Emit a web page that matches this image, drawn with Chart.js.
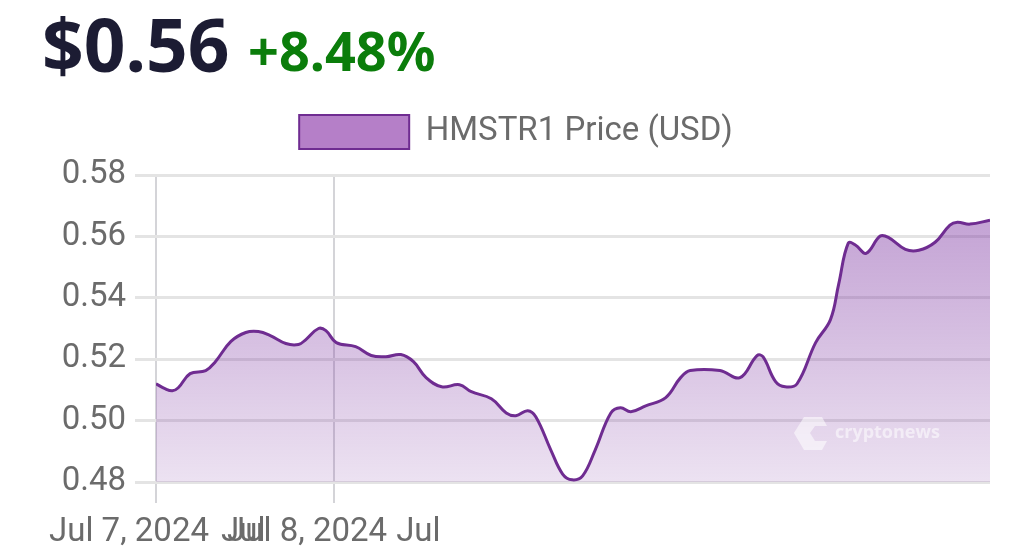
<!DOCTYPE html>
<html>
<head>
<meta charset="utf-8">
<title>HMSTR1 Price</title>
<script src="https://cdn.jsdelivr.net/npm/chart.js@4"></script>
<style>
  html, body { margin: 0; padding: 0; background: #fff; }
  #wrap { position: relative; width: 1024px; height: 556px; overflow: hidden; }
  #chart { position: absolute; left: 0; top: 0; }
  .price, .change { position: absolute; font-family: "Noto Sans", sans-serif; font-weight: 700; white-space: nowrap; transform-origin: left top; }
  .price { left: 42px; top: -6px; font-size: 73px; color: #1c1c33; }
  .change { left: 248px; top: 13px; font-size: 54px; color: #0b7d0b; }
</style>
</head>
<body>
<div id="wrap">
  <div class="price" id="priceText"></div>
  <div class="change" id="changeText"></div>
  <canvas id="chart" width="1024" height="556"></canvas>
</div>
<script>
const priceLabel = '$0.56';
const changeLabel = '+8.48%';
const seriesName = 'HMSTR1 Price (USD)';

// hours since Jul 7
const hours = [0, 1.2, 2.2, 3, 4.6, 6.7, 8, 10.1, 12.1, 13.8, 15.4, 17.5, 19.2, 20.2, 21.9, 22.9, 24.3, 26.9, 29, 31, 33, 34.7, 36.4, 38.5, 40.9, 42.5, 45.2, 47.2, 48.5, 50.1, 51.2, 53.2, 54.8, 56.1, 57.5, 59.2, 61.3, 62.6, 64, 66, 68.7, 70.7, 72, 76, 78.7, 81, 81.8, 83.5, 84.8, 86.4, 88.9, 90.9, 92, 93.3, 94.3, 95.7, 97.6, 98.7, 101, 102.8, 105, 107, 108, 109.7, 112.4];
const prices = [0.512, 0.5104, 0.5097, 0.5107, 0.5153, 0.5163, 0.5192, 0.5258, 0.5287, 0.529, 0.5277, 0.5251, 0.5248, 0.5264, 0.53, 0.5293, 0.5254, 0.5241, 0.5212, 0.5208, 0.5215, 0.5192, 0.514, 0.511, 0.5117, 0.5094, 0.5071, 0.5025, 0.5016, 0.5032, 0.5012, 0.4905, 0.4826, 0.4807, 0.482, 0.4905, 0.5025, 0.5042, 0.5029, 0.5048, 0.5075, 0.514, 0.5163, 0.5163, 0.514, 0.5212, 0.5208, 0.5127, 0.511, 0.512, 0.5254, 0.5329, 0.5444, 0.5578, 0.5571, 0.5545, 0.5601, 0.5597, 0.5558, 0.5555, 0.5581, 0.5637, 0.5646, 0.564, 0.5653];

const xTickHours = [0, 15.4, 24, 39];
const xTickLabels = ['Jul 7, 2024', 'Jul', 'Jul 8, 2024', 'Jul'];
const xGridHours = [0, 24];
const yTicks = [0.48, 0.50, 0.52, 0.54, 0.56, 0.58];

document.getElementById('priceText').textContent = priceLabel;
document.getElementById('changeText').textContent = changeLabel;

const lineColor = '#6f2c91';
const legendFill = '#b57fc8';
const axisGrey = '#6b6b6b';

function areaGradient(ctx) {
  const area = ctx.chart.chartArea;
  if (!area) return legendFill;
  const g = ctx.chart.ctx.createLinearGradient(0, area.top, 0, area.bottom);
  g.addColorStop(0, 'rgba(123,50,160,0.50)');
  g.addColorStop(1, 'rgba(123,50,160,0.14)');
  return g;
}

// extra room between the legend and the plot
const legendGap = {
  id: 'legendGap',
  beforeInit(chart) {
    const fit = chart.legend.fit;
    chart.legend.fit = function () {
      fit.call(this);
      this.height += 16;
    };
  }
};

// cryptonews mark sits on top of the area fill
const watermark = {
  id: 'watermark',
  afterDatasetsDraw(chart) {
    const c = chart.ctx;
    c.save();
    c.fillStyle = 'rgba(255,255,255,0.55)';
    c.beginPath();
    c.moveTo(822, 417);
    c.lineTo(804, 417);
    c.lineTo(794, 433);
    c.lineTo(804, 450);
    c.lineTo(822, 450);
    c.lineTo(827, 441);
    c.lineTo(815, 441);
    c.lineTo(810, 433);
    c.lineTo(815, 426);
    c.lineTo(827, 426);
    c.closePath();
    c.fill();
    c.font = 'bold 18px "Open Sans", sans-serif';
    c.textBaseline = 'middle';
    c.fillText('cryptonews', 835, 433);
    c.restore();
  }
};

new Chart(document.getElementById('chart'), {
  type: 'line',
  plugins: [legendGap, watermark],
  data: {
    datasets: [{
      label: seriesName,
      data: hours.map((h, i) => ({ x: h, y: prices[i] })),
      borderColor: lineColor,
      borderWidth: 3,
      backgroundColor: areaGradient,
      fill: true,
      tension: 0.4,
      pointRadius: 0
    }]
  },
  options: {
    responsive: false,
    animation: false,
    devicePixelRatio: 1,
    layout: { padding: { top: 88, right: 34, left: 42, bottom: 0 } },
    plugins: {
      legend: {
        display: true,
        position: 'top',
        labels: {
          boxWidth: 110,
          boxHeight: 34,
          padding: 27,
          color: axisGrey,
          font: { family: 'Roboto', size: 33 },
          generateLabels: () => [{
            text: seriesName,
            fillStyle: legendFill,
            strokeStyle: lineColor,
            lineWidth: 2,
            fontColor: axisGrey
          }]
        }
      },
      tooltip: { enabled: false }
    },
    scales: {
      x: {
        type: 'linear',
        min: 0,
        max: 112.4,
        afterBuildTicks: axis => { axis.ticks = xTickHours.map(v => ({ value: v })); },
        afterFit: axis => { axis.height = 74; },
        ticks: {
          autoSkip: false,
          maxRotation: 0,
          minRotation: 0,
          labelOffset: -27,
          padding: 10,
          color: axisGrey,
          font: { family: 'Roboto', size: 33 },
          callback: (v) => xTickLabels[xTickHours.indexOf(v)]
        },
        grid: {
          drawOnChartArea: true,
          tickLength: 21,
          lineWidth: 2,
          color: ctx => xGridHours.includes(ctx.tick && ctx.tick.value) ? '#d4d4d8' : 'transparent'
        },
        border: { display: false }
      },
      y: {
        min: 0.48,
        max: 0.58,
        afterBuildTicks: axis => { axis.ticks = yTicks.map(v => ({ value: v })); },
        afterFit: axis => { axis.width = 114; },
        ticks: {
          padding: 9,
          color: axisGrey,
          font: { family: 'Roboto', size: 33 },
          callback: v => v.toFixed(2)
        },
        grid: { color: '#e4e4e4', lineWidth: 3, tickLength: 21 },
        border: { display: false }
      }
    }
  }
});
</script>
</body>
</html>
